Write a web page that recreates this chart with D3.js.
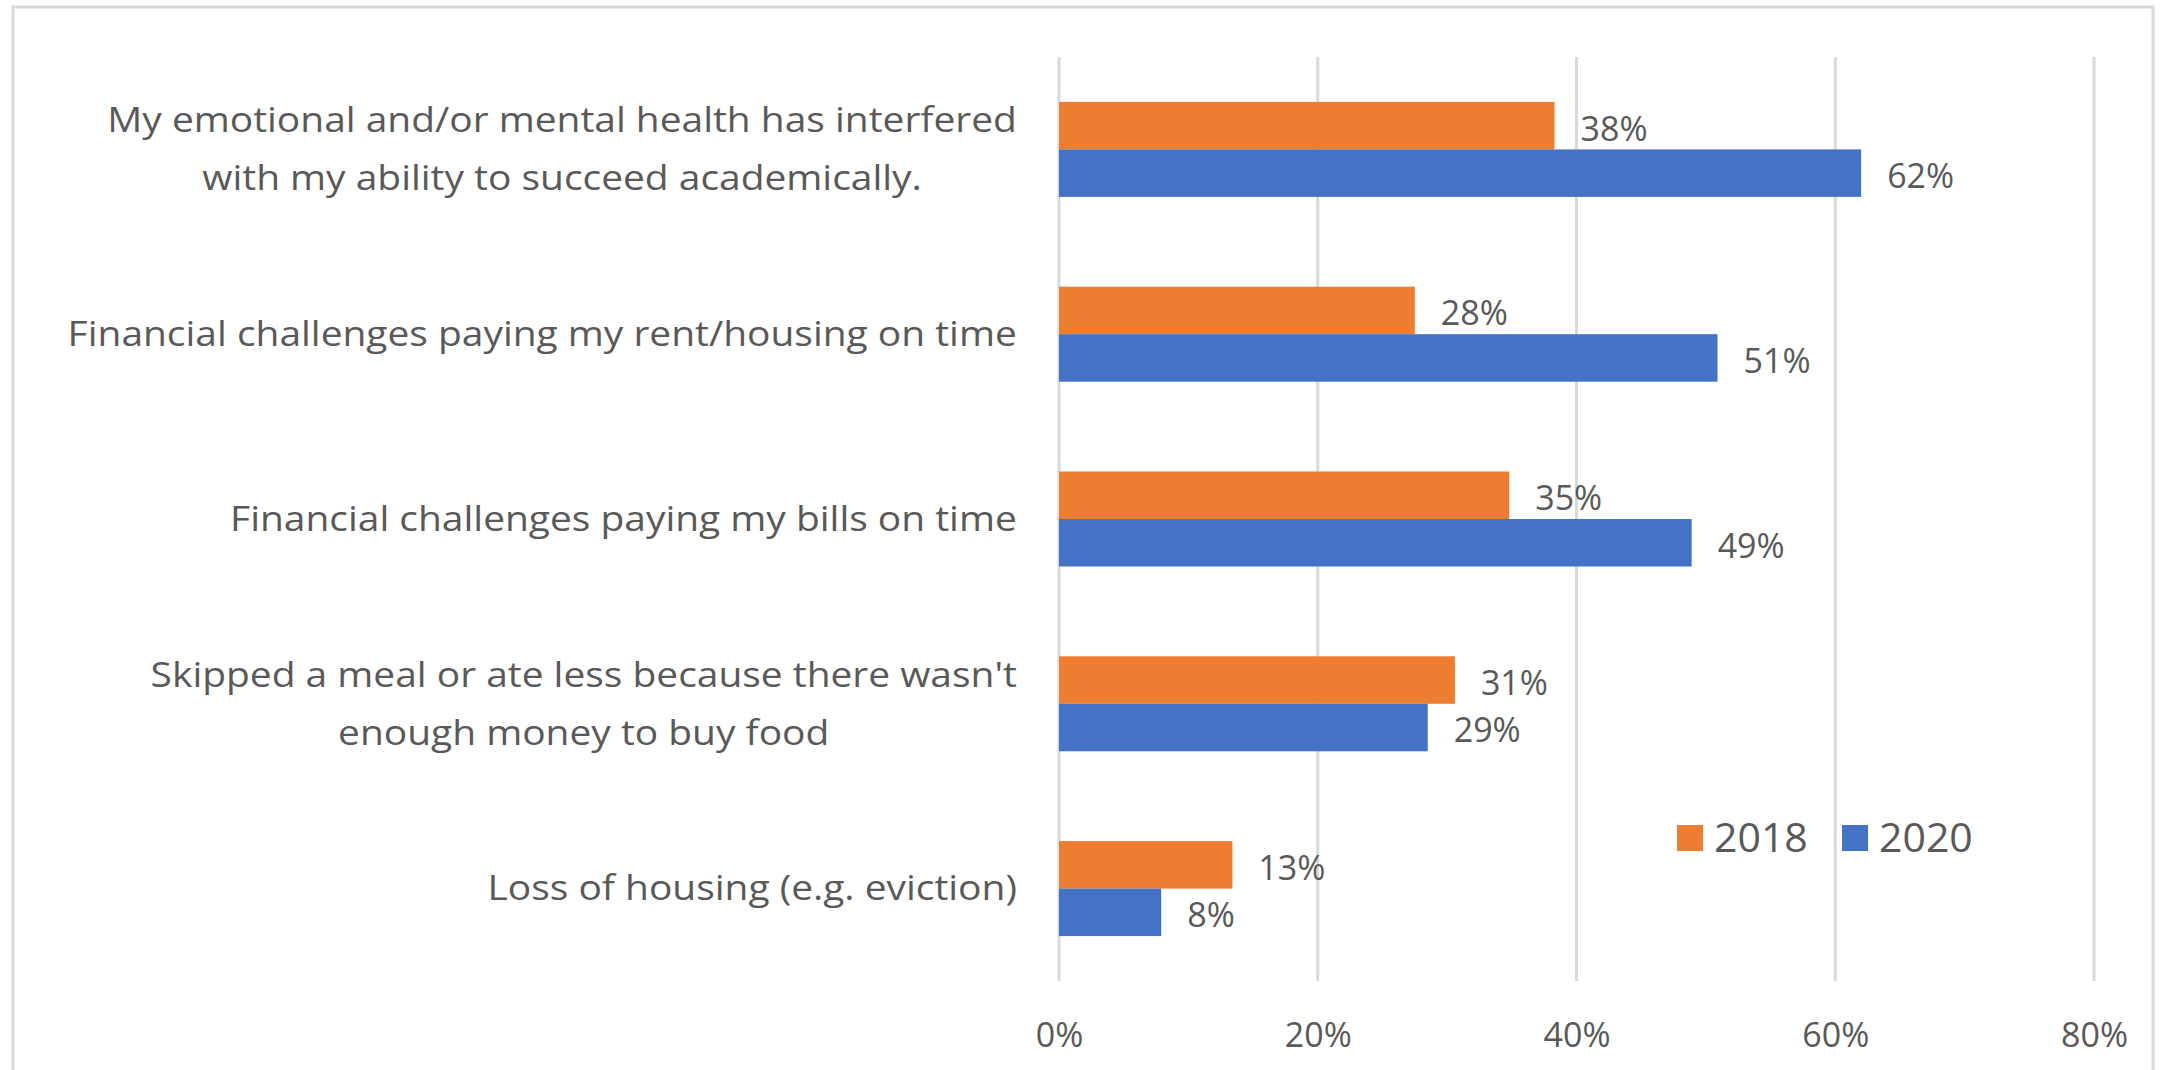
<!DOCTYPE html>
<html>
<head>
<meta charset="utf-8">
<script src="https://cdn.jsdelivr.net/npm/d3@7"></script>
<style>
  body { margin: 0; background: #fff; }
  text { font-family: "Open Sans", sans-serif; fill: #595959; }
</style>
</head>
<body>
<div id="chart"></div>
<script>
// categories (top to bottom), "\n" marks a line break in the label
var categories = [
  "My emotional and/or mental health has interfered\nwith my ability to succeed academically.",
  "Financial challenges paying my rent/housing on time",
  "Financial challenges paying my bills on time",
  "Skipped a meal or ate less because there wasn't\nenough money to buy food",
  "Loss of housing (e.g. eviction)"
];
var years = ["2018", "2020"];
var values2018 = [38.3, 27.5, 34.8, 30.6, 13.4];
var values2020 = [62.0, 50.9, 48.9, 28.5, 7.9];
var xTicks = [0, 20, 40, 60, 80];
var colors = ["#ED7D31", "#4472C4"];

var w = 2161, h = 1070;
var svg = d3.select('#chart').append('svg')
  .attr('width', w)
  .attr('height', h);

// frame round the chart
svg.append('rect')
  .attr('x', 13).attr('y', 7)
  .attr('width', 2140).attr('height', 1100)
  .attr('fill', 'none')
  .attr('stroke', '#d9d9d9')
  .attr('stroke-width', 3);

var x = d3.scaleLinear().domain([0, 80]).range([1059, 2094]);
var y = d3.scaleBand().domain(categories).range([57, 981])
  .paddingInner(0.486).paddingOuter(0.243);
var ySub = d3.scaleBand().domain(years).range([0, y.bandwidth()]);

// gridlines
svg.append('g').selectAll('line')
  .data(xTicks).enter().append('line')
  .attr('x1', function(d){ return x(d); })
  .attr('x2', function(d){ return x(d); })
  .attr('y1', 57).attr('y2', 981)
  .attr('stroke', '#d9d9d9')
  .attr('stroke-width', 3);

// x axis tick labels
var xAxis = svg.append('g')
  .attr('transform', 'translate(0,1035)')
  .call(d3.axisBottom(x).tickValues(xTicks).tickSize(0).tickPadding(0)
    .tickFormat(function(d){ return d + '%'; }));
xAxis.select('.domain').remove();
xAxis.selectAll('text')
  .attr('y', 0).attr('dy', '0.35em')
  .style('font-size', '34px')
  .style('font-family', '"Open Sans", sans-serif')
  .attr('fill', '#595959');

// bars
var series = [values2018, values2020];
series.forEach(function(vals, s){
  var g = svg.append('g');
  g.selectAll('rect')
    .data(vals).enter().append('rect')
    .attr('x', x(0))
    .attr('y', function(d, i){ return y(categories[i]) + ySub(years[s]); })
    .attr('width', function(d){ return x(d) - x(0); })
    .attr('height', ySub.bandwidth())
    .attr('fill', colors[s]);
  g.selectAll('text')
    .data(vals).enter().append('text')
    .attr('x', function(d){ return x(d) + 26; })
    .attr('y', function(d, i){ return y(categories[i]) + ySub(years[s]) + ySub.bandwidth() / 2 + 3; })
    .attr('dy', '0.35em')
    .style('font-size', '34px')
    .text(function(d){ return Math.round(d) + '%'; });
});

// category labels: right aligned block, lines centred within it,
// stretched a bit sideways like the original
var labelRight = 1017;
var lineH = 58;
var sx = 1.145;
categories.forEach(function(c){
  var lines = c.split('\n');
  var cy = y(c) + y.bandwidth() / 2;
  var t = svg.append('text')
    .attr('text-anchor', 'middle')
    .style('font-size', '34px');
  lines.forEach(function(l, k){
    t.append('tspan')
      .attr('x', 0)
      .attr('y', cy + (k - (lines.length - 1) / 2) * lineH)
      .attr('dy', '0.35em')
      .text(l);
  });
  var bw = t.node().getBBox().width;
  t.attr('transform', 'translate(' + (labelRight - sx * bw / 2) + ',0) scale(' + sx + ',1)');
});

// legend
var legend = svg.append('g').attr('transform', 'translate(1677,838)');
var lx = [0, 165];
years.forEach(function(yr, i){
  legend.append('rect')
    .attr('x', lx[i]).attr('y', -13)
    .attr('width', 26).attr('height', 26)
    .attr('fill', colors[i]);
  legend.append('text')
    .attr('x', lx[i] + 37).attr('y', 0)
    .attr('dy', '0.35em')
    .style('font-size', '41px')
    .text(yr);
});
</script>
</body>
</html>
